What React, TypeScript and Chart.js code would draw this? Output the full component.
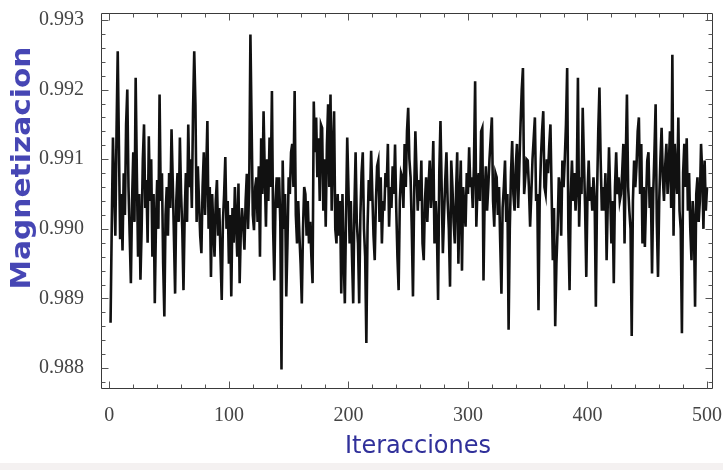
import React, { useEffect, useRef } from "react";
import { Chart, registerables } from "chart.js";

Chart.register(...registerables);

// Magnetization per iteration
const magnetization001to100 = [
  0.98865, 0.99005, 0.99131, 0.99060, 0.98990, 0.99140, 0.99255, 0.99120, 0.98985, 0.99050,
  0.98969, 0.99080, 0.99020, 0.99150, 0.99200, 0.99060, 0.98990, 0.98922, 0.99040, 0.99110,
  0.99010, 0.99217, 0.99080, 0.98960, 0.99050, 0.98927, 0.99000, 0.99100, 0.99150, 0.99030,
  0.99070, 0.98980, 0.99133, 0.99040, 0.99100, 0.98960, 0.99050, 0.98893, 0.99010, 0.99070,
  0.99000, 0.99193, 0.99040, 0.99080, 0.98950, 0.98874, 0.99020, 0.99060, 0.98990, 0.99080,
  0.99030, 0.99143, 0.99070, 0.98990, 0.98907, 0.99040, 0.99080, 0.99010, 0.99131, 0.99050,
  0.99000, 0.98912, 0.99020, 0.99080, 0.99010, 0.99150, 0.99060, 0.99100, 0.99030, 0.99170,
  0.99255, 0.99179, 0.99010, 0.99090, 0.99040, 0.98990, 0.98965, 0.99060, 0.99110, 0.99020,
  0.99080, 0.99155, 0.99000, 0.99060, 0.98931, 0.99050, 0.99000, 0.98960, 0.99040, 0.99070,
  0.98990, 0.99030, 0.98960, 0.98898, 0.99010, 0.99050, 0.99103, 0.99000, 0.99040, 0.98950,
];
const magnetization101to200 = [
  0.99020, 0.98903, 0.99030, 0.98980, 0.99060, 0.99010, 0.98960, 0.99065, 0.98922, 0.99000,
  0.99030, 0.99003, 0.98970, 0.99040, 0.99079, 0.99000, 0.99060, 0.99279, 0.99150, 0.99020,
  0.98998, 0.99060, 0.99074, 0.99010, 0.99090, 0.98960, 0.99130, 0.99050, 0.99169, 0.99080,
  0.99003, 0.99100, 0.99040, 0.99131, 0.99060, 0.99198, 0.99000, 0.98926, 0.99040, 0.99074,
  0.99030, 0.99074, 0.99010, 0.98798, 0.99098, 0.99000, 0.99050, 0.98903, 0.98980, 0.99074,
  0.99050, 0.99110, 0.99122, 0.99060, 0.99198, 0.99020, 0.98979, 0.99040, 0.98990, 0.98950,
  0.98893, 0.99000, 0.99060, 0.99050, 0.98990, 0.99040, 0.98979, 0.99010, 0.98960, 0.98922,
  0.99183, 0.99110, 0.99160, 0.99074, 0.99130, 0.99040, 0.99150, 0.99145, 0.99026, 0.99100,
  0.99003, 0.99120, 0.99179, 0.99060, 0.99193, 0.99026, 0.99110, 0.99169, 0.99000, 0.98979,
  0.99050, 0.98990, 0.99040, 0.98907, 0.99050, 0.98960, 0.98893, 0.99020, 0.99131, 0.99060,
];
const magnetization201to300 = [
  0.98979, 0.99040, 0.98960, 0.98893, 0.99030, 0.99110, 0.99010, 0.98979, 0.98893, 0.99020,
  0.99080, 0.99110, 0.99000, 0.98960, 0.98836, 0.99003, 0.99070, 0.99040, 0.99112, 0.99050,
  0.98990, 0.98955, 0.99040, 0.99090, 0.99098, 0.99010, 0.99074, 0.98979, 0.99040, 0.99026,
  0.99080, 0.99060, 0.99122, 0.99003, 0.99060, 0.99030, 0.99090, 0.99050, 0.99121, 0.99030,
  0.98960, 0.98912, 0.99040, 0.99080, 0.99074, 0.99030, 0.99122, 0.99060, 0.99140, 0.99174,
  0.99100, 0.99074, 0.99000, 0.98903, 0.99050, 0.99140, 0.99080, 0.99026, 0.99070, 0.99040,
  0.99098, 0.98979, 0.98955, 0.99040, 0.99074, 0.99010, 0.99060, 0.99098, 0.99030, 0.99060,
  0.99126, 0.98979, 0.99040, 0.99000, 0.98898, 0.99080, 0.99155, 0.99060, 0.98965, 0.99020,
  0.99070, 0.99110, 0.99040, 0.99000, 0.98917, 0.99098, 0.99060, 0.99010, 0.98979, 0.99050,
  0.99110, 0.98950, 0.99040, 0.99098, 0.98940, 0.99060, 0.99030, 0.99003, 0.99080, 0.99050,
];
const magnetization301to400 = [
  0.99117, 0.99060, 0.99074, 0.99030, 0.99090, 0.99212, 0.99003, 0.99060, 0.99080, 0.99040,
  0.99140, 0.99145, 0.98926, 0.99050, 0.99090, 0.99026, 0.99060, 0.99100, 0.99130, 0.99160,
  0.99040, 0.99003, 0.99080, 0.99074, 0.99020, 0.99060, 0.98979, 0.98907, 0.99030, 0.99060,
  0.99098, 0.99010, 0.99050, 0.98855, 0.99000, 0.99080, 0.99126, 0.99050, 0.99026, 0.99090,
  0.99122, 0.99030, 0.99090, 0.99150, 0.99200, 0.99231, 0.99050, 0.99074, 0.99100, 0.99098,
  0.99060, 0.99003, 0.99050, 0.99100, 0.99130, 0.99160, 0.99040, 0.99050, 0.98883, 0.99040,
  0.99100, 0.99140, 0.99169, 0.99060, 0.99050, 0.99100, 0.99080, 0.99120, 0.99150, 0.99050,
  0.98955, 0.99030, 0.98860, 0.98950, 0.99000, 0.99074, 0.99060, 0.98990, 0.99098, 0.99060,
  0.99100, 0.99150, 0.99231, 0.99000, 0.98912, 0.99050, 0.99098, 0.99040, 0.99080, 0.99026,
  0.99060, 0.99217, 0.99003, 0.99074, 0.99050, 0.99174, 0.99100, 0.99030, 0.98931, 0.99050,
];
const magnetization401to500 = [
  0.99098, 0.99040, 0.99060, 0.99026, 0.99074, 0.99040, 0.98888, 0.99050, 0.99140, 0.99203,
  0.99100, 0.99026, 0.99060, 0.99026, 0.99080, 0.98955, 0.99040, 0.99117, 0.99050, 0.98979,
  0.99040, 0.98922, 0.99060, 0.99110, 0.99050, 0.99074, 0.99040, 0.99050, 0.99080, 0.99122,
  0.98979, 0.99100, 0.99193, 0.99060, 0.99026, 0.99000, 0.98846, 0.99040, 0.99098, 0.99060,
  0.99090, 0.99140, 0.99160, 0.99050, 0.99122, 0.98979, 0.99060, 0.98974, 0.99040, 0.99098,
  0.99110, 0.99030, 0.99060, 0.98936, 0.99050, 0.99110, 0.99179, 0.99010, 0.98931, 0.99040,
  0.99100, 0.99145, 0.99074, 0.99040, 0.99090, 0.99122, 0.99050, 0.99090, 0.99140, 0.99030,
  0.99250, 0.98990, 0.99122, 0.99080, 0.99050, 0.99160, 0.99026, 0.99000, 0.98850, 0.99080,
  0.99122, 0.99060, 0.99130, 0.99026, 0.99080, 0.99000, 0.98955, 0.99040, 0.99010, 0.98888,
  0.99050, 0.99074, 0.99010, 0.99040, 0.99122, 0.99080, 0.99000, 0.99098, 0.99026, 0.99060,
];

const magnetization = [
  ...magnetization001to100,
  ...magnetization101to200,
  ...magnetization201to300,
  ...magnetization301to400,
  ...magnetization401to500,
];
const iterations = magnetization.map((_, i) => i + 1);

const xTickValues = [0, 100, 200, 300, 400, 500];
const yTickValues = [0.988, 0.989, 0.99, 0.991, 0.992, 0.993];
const xTitle = "Iteracciones";
const yTitle = "Magnetizacion";

const X_MIN = -7;
const X_MAX = 505;
const Y_MIN = 0.9877;
const Y_MAX = 0.9931;

const framePlugin = {
  id: "mathematicaFrame",
  afterDatasetsDraw(chart: any) {
    const { ctx, chartArea: a, scales } = chart;
    const xs = scales.x;
    const ys = scales.y;
    const L = Math.round(a.left) + 0.5;
    const R = Math.round(a.right) - 0.5;
    const T = Math.round(a.top) + 0.5;
    const B = Math.round(a.bottom) - 0.5;
    ctx.save();
    ctx.strokeStyle = "#3a3a3a";
    ctx.lineWidth = 1;
    ctx.beginPath();
    ctx.moveTo(L, T);
    ctx.lineTo(R, T);
    ctx.lineTo(R, B);
    ctx.lineTo(L, B);
    ctx.closePath();
    ctx.stroke();

    ctx.strokeStyle = "#555";
    ctx.beginPath();
    for (let v = 0; v <= 500; v += 20) {
      const px = Math.round(xs.getPixelForValue(v)) + 0.5;
      const len = v % 100 === 0 ? 7 : 4;
      ctx.moveTo(px, B);
      ctx.lineTo(px, B - len);
      ctx.moveTo(px, T);
      ctx.lineTo(px, T + len);
    }
    for (let k = 4939; k <= 4965; k++) {
      const v = k * 0.0002;
      const py = Math.round(ys.getPixelForValue(v)) + 0.5;
      const len = k % 5 === 0 ? 7 : 4;
      ctx.moveTo(L, py);
      ctx.lineTo(L + len, py);
      ctx.moveTo(R, py);
      ctx.lineTo(R - len, py);
    }
    ctx.stroke();
    ctx.restore();
  },
  afterDraw(chart: any) {
    const { ctx } = chart;
    ctx.save();
    ctx.fillStyle = "#4646b4";
    ctx.font = "bold 27px 'DejaVu Sans', sans-serif";
    ctx.textAlign = "center";
    ctx.textBaseline = "middle";
    ctx.translate(23, 168);
    ctx.rotate(-Math.PI / 2);
    const w = ctx.measureText(yTitle).width;
    const sx = w > 0 ? 243 / w : 1;
    ctx.scale(sx, 1);
    ctx.fillText(yTitle, 0, 0);
    ctx.restore();

    ctx.save();
    ctx.fillStyle = "#30309a";
    ctx.font = "24px 'DejaVu Sans', sans-serif";
    ctx.textAlign = "center";
    ctx.textBaseline = "middle";
    ctx.fillText(xTitle, 418, 447);
    ctx.restore();
  },
};

export default function App() {
  const canvasRef = useRef<HTMLCanvasElement | null>(null);

  useEffect(() => {
    const canvas = canvasRef.current;
    if (!canvas) return;
    const chart = new Chart(canvas, {
      type: "line",
      data: {
        labels: iterations,
        datasets: [
          {
            data: iterations.map((it, i) => ({ x: it, y: magnetization[i] })),
            borderColor: "#111",
            borderWidth: 2.6,
            pointRadius: 0,
            tension: 0,
            fill: false,
          },
        ],
      },
      options: {
        responsive: false,
        animation: false,
        devicePixelRatio: 1,
        layout: { padding: { top: 13, right: 10, left: 0, bottom: 0 } },
        plugins: {
          legend: { display: false },
          tooltip: { enabled: false },
        },
        scales: {
          x: {
            type: "linear",
            min: X_MIN,
            max: X_MAX,
            grid: { display: false },
            border: { display: false },
            afterBuildTicks: (s: any) => {
              s.ticks = xTickValues.map((v) => ({ value: v }));
            },
            afterFit: (s: any) => {
              s.height = 81;
              s.paddingLeft = 0;
              s.paddingRight = 0;
            },
            ticks: {
              autoSkip: false,
              maxRotation: 0,
              padding: 7,
              color: "#444",
              font: { family: "'Liberation Serif', 'Times New Roman', serif", size: 20 },
              callback: (v: any) => String(Math.round(Number(v))),
            },
          },
          y: {
            type: "linear",
            min: Y_MIN,
            max: Y_MAX,
            grid: { display: false },
            border: { display: false },
            afterBuildTicks: (s: any) => {
              s.ticks = yTickValues.map((v) => ({ value: v }));
            },
            afterFit: (s: any) => {
              s.width = 101;
              s.paddingTop = 0;
              s.paddingBottom = 0;
            },
            ticks: {
              autoSkip: false,
              padding: 9,
              color: "#444",
              font: { family: "'Liberation Serif', 'Times New Roman', serif", size: 20 },
              callback: (v: any) => Number(v).toFixed(3),
            },
          },
        },
      },
      plugins: [framePlugin],
    });
    return () => chart.destroy();
  }, []);

  return (
    <div style={{ position: "absolute", left: 0, top: 0, width: 723, height: 470, background: "#fff" }}>
      <canvas ref={canvasRef} width={723} height={470} style={{ display: "block" }} />
      <div style={{ position: "absolute", left: 0, top: 463, width: 723, height: 7, background: "#f4f1f1" }} />
    </div>
  );
}
